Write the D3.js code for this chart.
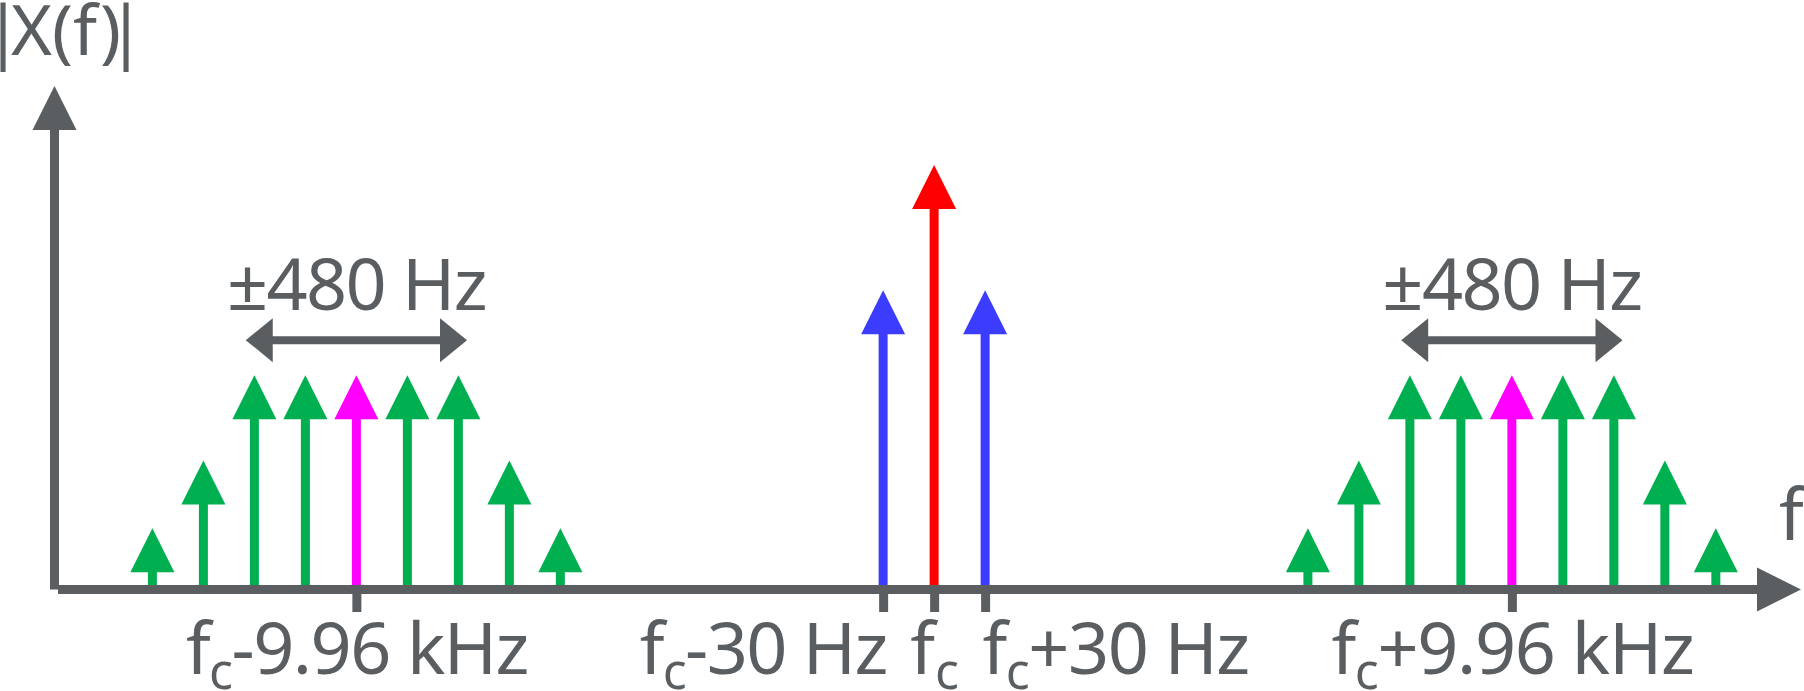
<!DOCTYPE html>
<html>
<head>
<meta charset="utf-8">
<script src="https://cdn.jsdelivr.net/npm/d3@7"></script>
<style>
  html, body { margin: 0; padding: 0; background: #fff; }
  svg { display: block; }
  svg text { font-family: "Noto Sans", "Open Sans", sans-serif; }
</style>
</head>
<body>
<svg id="chart" width="1804" height="691"></svg>
<script>
// Spectrum values. Positions are schematic (1 unit = one line spacing),
// amplitudes are relative to the carrier.
const carrier = [{ pos: 0, amp: 1.0 }];
const voiceLines = [{ pos: -1, amp: 0.705 }, { pos: 1, amp: 0.705 }];
const subcarrierCenters = [-11.33, 11.33];
const toneOffsets = [-4, -3, -2, -1, 0, 1, 2, 3, 4];
const toneAmps = [0.144, 0.304, 0.505, 0.505, 0.505, 0.505, 0.505, 0.304, 0.144];
const spanHalf = 2.17;
const spanLabel = '\u00b1480 Hz';
const tickPos = [-11.33, -1, 0, 1, 11.33];
const tickLabels = ['-9.96 kHz', '-30 Hz', '', '+30 Hz', '+9.96 kHz'];
const yLabel = 'X(f)';
const xLabel = 'f';

const gray = '#5a5e61';
const green = '#00b050';
const magenta = '#ff00ff';
const red = '#ff0000';
const blue = '#3c3cff';

const stemWidth = 9;
const headLen = 44;
const headHalf = 22;

const svg = d3.select('#chart');

const x = d3.scaleLinear()
    .domain([-17.25, 17.0])
    .range([54.5, 1801]);

const y = d3.scaleLinear()
    .domain([0, 1])
    .range([589.5, 165]);

// squeeze a text to a target width with letter-spacing
function fitWidth(t, target) {
    const node = t.node();
    const natural = node.getComputedTextLength();
    const n = node.textContent.length;
    if (n > 1) t.style('letter-spacing', ((target - natural) / n) + 'px');
}

// build list of all spectral lines
let lines = [];
carrier.forEach(d => lines.push({ pos: d.pos, amp: d.amp, color: red }));
voiceLines.forEach(d => lines.push({ pos: d.pos, amp: d.amp, color: blue }));
subcarrierCenters.forEach(c => {
    toneOffsets.forEach((o, i) => {
        lines.push({ pos: c + o, amp: toneAmps[i], color: o === 0 ? magenta : green });
    });
});

const upHead = (cx, tipY) =>
    `M${cx},${tipY}L${cx + headHalf},${tipY + headLen}L${cx - headHalf},${tipY + headLen}Z`;

let g = svg.append('g').attr('id', 'lines');

g.selectAll('line')
    .data(lines)
    .enter().append('line')
    .attr('x1', d => x(d.pos))
    .attr('x2', d => x(d.pos))
    .attr('y1', y(0))
    .attr('y2', d => y(d.amp) + headLen - 1)
    .attr('stroke', d => d.color)
    .attr('stroke-width', stemWidth);

g.selectAll('path')
    .data(lines)
    .enter().append('path')
    .attr('d', d => upHead(x(d.pos), y(d.amp)))
    .attr('fill', d => d.color);

// x axis with arrow
const xAxisY = y(0);
const xTip = x.range()[1];
svg.append('line')
    .attr('x1', 58).attr('x2', xTip - headLen + 1)
    .attr('y1', xAxisY).attr('y2', xAxisY)
    .attr('stroke', gray).attr('stroke-width', 9);
svg.append('path')
    .attr('d', `M${xTip},${xAxisY}L${xTip - headLen},${xAxisY - headHalf}L${xTip - headLen},${xAxisY + headHalf}Z`)
    .attr('fill', gray);

// y axis with arrow
const yAxisX = x.range()[0];
const yTip = y(1.186);
svg.append('line')
    .attr('x1', yAxisX).attr('x2', yAxisX)
    .attr('y1', xAxisY).attr('y2', yTip + headLen - 1)
    .attr('stroke', gray).attr('stroke-width', 9);
svg.append('path')
    .attr('d', upHead(yAxisX, yTip))
    .attr('fill', gray);

// ticks
let gx = svg.append('g')
    .attr('transform', `translate(0, ${xAxisY})`)
    .call(d3.axisBottom(x).tickValues(tickPos).tickSize(22.5).tickSizeOuter(0).tickFormat(''));
gx.select('.domain').remove();
gx.selectAll('.tick line')
    .attr('stroke', gray)
    .attr('stroke-width', 9);

const labelLens = [342, 247, 0, 266, 362];
gx.selectAll('.tick').each(function (d, i) {
    const anchor = tickPos[i] === -1 ? 'end' : tickPos[i] === 1 ? 'start' : 'middle';
    const dx = anchor === 'end' ? 3 : anchor === 'start' ? -3 : 0;
    const t = d3.select(this).append('text')
        .attr('x', dx)
        .attr('y', 84.5)
        .attr('fill', gray)
        .attr('font-size', 72)
        .attr('text-anchor', anchor);
    t.append('tspan').text('f');
    t.append('tspan').attr('font-size', 50).attr('dy', 15).text('c');
    if (tickLabels[i] !== '') {
        t.append('tspan').attr('dy', -15).text(tickLabels[i]);
    }
    if (labelLens[i] > 0) fitWidth(t, labelLens[i]);
});

// ±480 Hz span markers
const spanY = y(0.505) - 35;
subcarrierCenters.forEach(c => {
    const l = x(c - spanHalf);
    const r = x(c + spanHalf);
    const headW = 27;
    svg.append('line')
        .attr('x1', l + headW - 1).attr('x2', r - headW + 1)
        .attr('y1', spanY).attr('y2', spanY)
        .attr('stroke', gray).attr('stroke-width', 8);
    svg.append('path')
        .attr('d', `M${l},${spanY}L${l + headW},${spanY - headHalf}L${l + headW},${spanY + headHalf}Z`)
        .attr('fill', gray);
    svg.append('path')
        .attr('d', `M${r},${spanY}L${r - headW},${spanY - headHalf}L${r - headW},${spanY + headHalf}Z`)
        .attr('fill', gray);
    const st = svg.append('text')
        .attr('x', x(c))
        .attr('y', spanY - 30)
        .attr('text-anchor', 'middle')
        .attr('font-size', 72)
        .attr('fill', gray)
        .text(spanLabel);
    fitWidth(st, 259);
});

// axis titles: |X(f)| with tight magnitude bars
const barL = svg.append('text').attr('x', 3).attr('y', 55)
    .attr('font-size', 70).attr('fill', gray).attr('text-anchor', 'middle').text('|');
const xf = svg.append('text').attr('x', 11).attr('y', 55)
    .attr('font-size', 70).attr('fill', gray).text(yLabel);
const barR = svg.append('text').attr('x', 126).attr('y', 55)
    .attr('font-size', 70).attr('fill', gray).attr('text-anchor', 'middle').text('|');

svg.append('text')
    .attr('x', 1779)
    .attr('y', 540)
    .attr('font-size', 72)
    .attr('fill', gray)
    .text(xLabel);
</script>
</body>
</html>
